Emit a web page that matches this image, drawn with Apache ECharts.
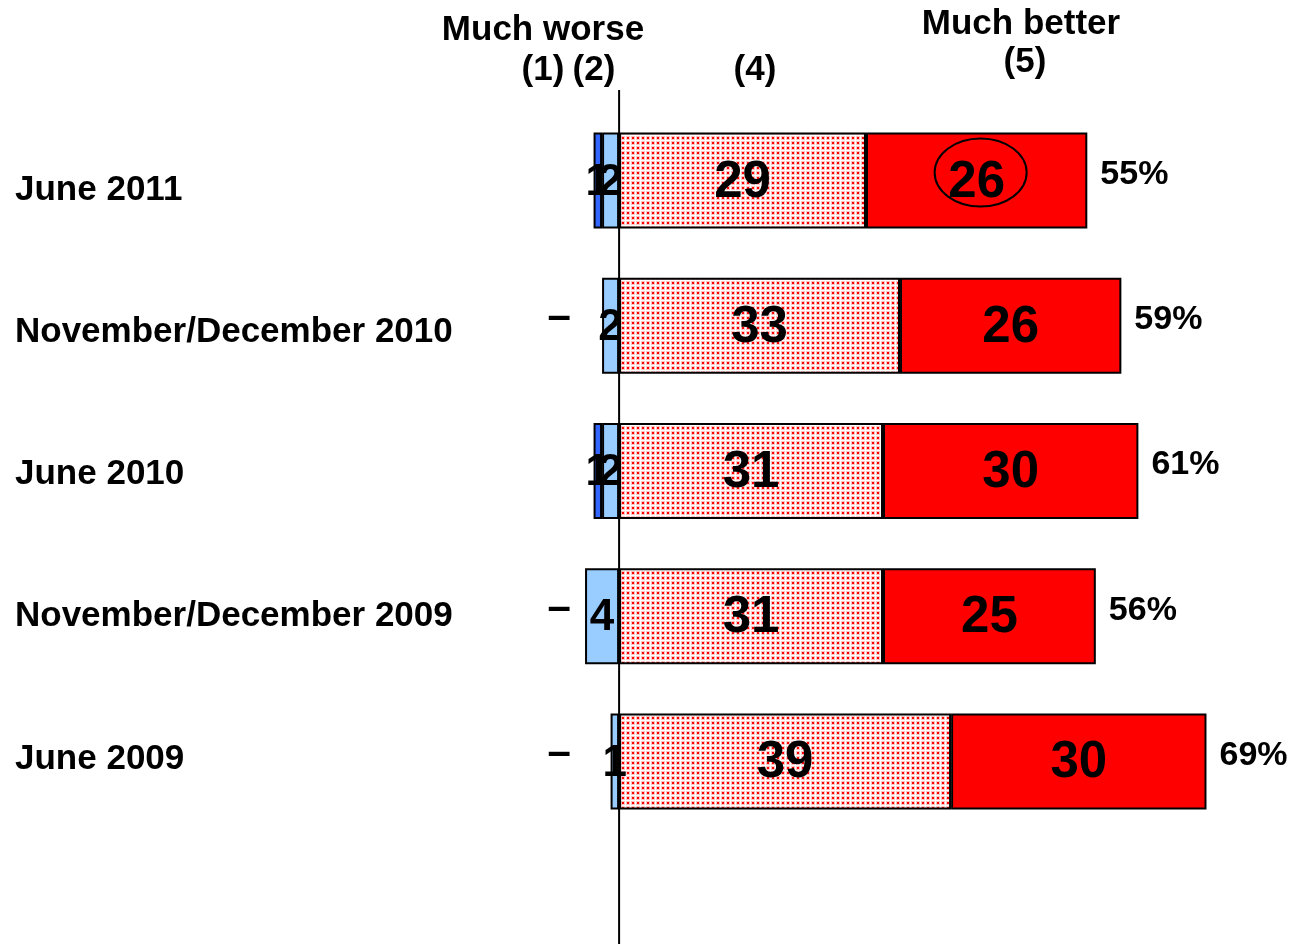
<!DOCTYPE html>
<html>
<head>
<meta charset="utf-8">
<script src="https://cdn.jsdelivr.net/npm/echarts@6/dist/echarts.min.js"></script>
<style>
  html, body { margin: 0; padding: 0; background: #ffffff; }
  #chart { width: 1290px; height: 944px; }
</style>
</head>
<body>
<div id="chart"></div>
<script>
// Survey waves, top to bottom
const categories = ['June 2011', 'November/December 2010', 'June 2010', 'November/December 2009', 'June 2009'];
// Shares (%) per answer on the 1-5 scale; null = no respondents ("–")
const muchWorse  = [1, null, 1, null, null];   // (1)
const worse      = [2, 2, 2, 4, 1];            // (2)
const better     = [29, 33, 31, 31, 39];       // (4)
const muchBetter = [26, 26, 30, 25, 30];       // (5)
// Net share answering better, (4) + (5)
const netBetter  = [55, 59, 61, 56, 69];

const FONT = "'Liberation Sans', Arial, Helvetica, sans-serif";

// Red dot screen used for the "(4)" segments
function dotPattern() {
  const c = document.createElement('canvas');
  c.width = 5; c.height = 5;
  const g = c.getContext('2d');
  g.fillStyle = '#ffffff';
  g.fillRect(0, 0, 5, 5);
  g.fillStyle = '#ffc4c4';
  g.fillRect(1, 1, 4, 4);
  g.fillStyle = '#ff0000';
  g.fillRect(2, 2, 2, 2);
  return c;
}

const chart = echarts.init(document.getElementById('chart'), null, { renderer: 'canvas' });

const border = { borderColor: '#000000', borderWidth: 2 };
function segLabel(size) {
  return {
    show: true,
    position: 'inside',
    offset: [0, 2],
    color: '#000000',
    fontFamily: FONT,
    fontWeight: 'bold',
    fontSize: size,
    formatter: p => (p.value == null || p.value === '-') ? '' : String(Math.abs(p.value))
  };
}

chart.setOption({
  animation: false,
  backgroundColor: '#ffffff',
  grid: [
    // bars
    { left: 551, width: 664, top: 108, height: 726, containLabel: false, outerBoundsMode: 'none' },
    // wave names, set slightly tighter than the bar rows
    { left: 551, width: 664, top: 119, height: 711, containLabel: false, outerBoundsMode: 'none' }
  ],
  xAxis: [
    { type: 'value', min: -8, max: 70, show: false, gridIndex: 0 },
    { type: 'value', min: -8, max: 70, show: false, gridIndex: 1 }
  ],
  yAxis: [
    {
      type: 'category', gridIndex: 0,
      data: categories,
      inverse: true,
      axisLine: { show: false },
      axisTick: { show: false },
      splitLine: { show: false },
      axisLabel: { show: false }
    },
    {
      type: 'category', gridIndex: 1,
      data: categories,
      inverse: true,
      axisLine: { show: false },
      axisTick: { show: false },
      splitLine: { show: false },
      axisLabel: {
        align: 'left',
        margin: 536,
        color: '#000000',
        fontFamily: FONT,
        fontWeight: 'bold',
        fontSize: 35
      }
    }
  ],
  series: [
    {
      name: '(2)', type: 'bar', stack: 'scale', barWidth: 96,
      data: worse.map(v => v == null ? '-' : -v),
      itemStyle: Object.assign({ color: '#99ccff' }, border),
      label: segLabel(44)
    },
    {
      name: '(1)', type: 'bar', stack: 'scale', barWidth: 96,
      data: muchWorse.map(v => v == null ? '-' : -v),
      itemStyle: Object.assign({ color: '#3366ff' }, border),
      label: segLabel(44)
    },
    {
      name: '(4)', type: 'bar', stack: 'scale', barWidth: 96,
      data: better,
      itemStyle: Object.assign({ color: { image: dotPattern(), repeat: 'repeat' } }, border),
      label: segLabel(51)
    },
    {
      name: '(5)', type: 'bar', stack: 'scale', barWidth: 96,
      data: muchBetter,
      itemStyle: Object.assign({ color: '#ff0000' }, border),
      label: segLabel(51)
    },
    {
      name: 'net', type: 'scatter', symbolSize: 0,
      data: netBetter.map((v, i) => [v, i]),
      itemStyle: { opacity: 1, color: '#000000' },
      label: {
        show: true, position: 'right', distance: 13, offset: [0, -6],
        color: '#000000', opacity: 1, fontFamily: FONT, fontWeight: 'bold', fontSize: 34,
        formatter: p => p.value[0] + '%'
      },
      z: 5
    }
  ]
});

// Annotations: zero line, scale headers, "–" markers, highlight ring
const zeroX = chart.convertToPixel({ gridIndex: 0 }, [0, 0])[0];
const rowY = i => chart.convertToPixel({ yAxisIndex: 0 }, i);

function headText(text, x, y) {
  return {
    type: 'text', x: x, y: y, z: 100,
    style: {
      text: text, align: 'center', verticalAlign: 'middle',
      fill: '#000000', fontFamily: FONT, fontWeight: 'bold', fontSize: 35
    }
  };
}

const elements = [
  {
    type: 'line', z: 100,
    shape: { x1: zeroX, y1: 90, x2: zeroX, y2: 944 },
    style: { stroke: '#000000', lineWidth: 2 }
  },
  headText('Much worse', 543, 30),
  headText('(1)', 543, 70),
  headText('(2)', 594, 70),
  headText('(4)', 755, 70),
  headText('Much better', 1021, 24),
  headText('(5)', 1025, 62)
];

muchWorse.forEach((v, i) => {
  if (v == null) {
    elements.push({
      type: 'text', x: zeroX - 60, y: rowY(i) - 8, z: 100,
      style: {
        text: '–', align: 'center', verticalAlign: 'middle',
        fill: '#000000', fontFamily: FONT, fontWeight: 'bold', fontSize: 42
      }
    });
  }
});

const ringCenter = chart.convertToPixel({ gridIndex: 0 }, [better[0] + muchBetter[0] / 2, 0]);
elements.push({
  type: 'ellipse', z: 100,
  shape: { cx: ringCenter[0] + 4, cy: ringCenter[1] - 8, rx: 46, ry: 34 },
  style: { fill: 'none', stroke: '#000000', lineWidth: 2 }
});

chart.setOption({ graphic: { elements: elements } });
</script>
</body>
</html>
